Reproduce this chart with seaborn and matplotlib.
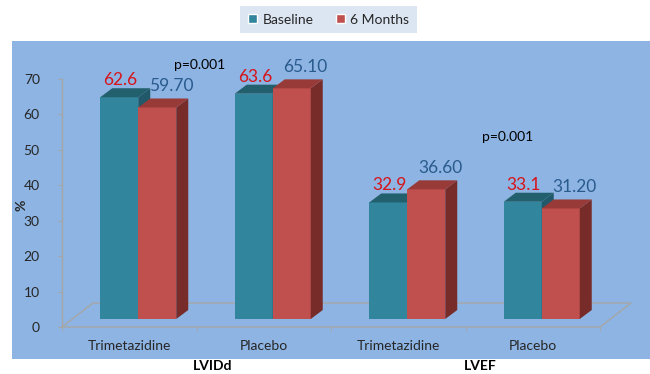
import matplotlib
matplotlib.use("Agg")
import pandas as pd
import matplotlib.pyplot as plt
import seaborn as sns
from matplotlib.patches import Polygon, Rectangle, Patch
from matplotlib.transforms import offset_copy

# values
groups = ["LVIDd", "LVIDd", "LVEF", "LVEF"]
drugs = ["Trimetazidine", "Placebo", "Trimetazidine", "Placebo"]
baseline = [62.6, 63.6, 32.9, 33.1]
six_months = [59.70, 65.10, 36.60, 31.20]
series = ["Baseline", "6 Months"]
p_texts = ["p=0.001", "p=0.001"]
yticks = [0, 10, 20, 30, 40, 50, 60, 70]

keys = [g + " " + d for g, d in zip(groups, drugs)]
df = pd.DataFrame({
    "key": keys * 2,
    "series": [series[0]] * len(keys) + [series[1]] * len(keys),
    "value": baseline + six_months,
})

teal, red = "#31859C", "#C0504D"
top_cols = ["#23606E", "#983A37"]
side_cols = ["#21596A", "#772C2A"]
label_cols = ["#D7141A", "#2A5B8E"]
label_fmt = ["{:.1f}", "{:.2f}"]

sns.set_style("white")
plt.rcParams["font.family"] = ["Lato", "DejaVu Sans"]

W, H = 650, 374
fig = plt.figure(figsize=(6.5, 3.74), dpi=100)
fig.patches.append(Rectangle((12 / W, (H - 359) / H), (W - 12) / W, (359 - 41) / H,
                             transform=fig.transFigure, facecolor="#8DB4E2",
                             edgecolor="none", zorder=-5))

ax = fig.add_axes([62 / W, (H - 327) / H, 538 / W, 248 / H])
ax.set_facecolor("none")

sns.barplot(data=df, x="key", y="value", hue="series", order=keys,
            hue_order=series, palette=[teal, red], width=0.565,
            saturation=1, linewidth=0, legend=False, ax=ax)

ax.set_xlim(-0.5, len(keys) - 0.5)
ax.set_ylim(0, 70)

# pixel -> data scale
sx = ax.bbox.width / len(keys)
sy = ax.bbox.height / 70

shift = offset_copy(ax.transData, fig=fig, x=9, y=8, units="dots")
ddx, ddy = 12 / sx, 9 / sy

# floor of the 3d box
fdx, fdy = 31 / sx, 24 / sy
floor = Polygon([(-0.5, 0), (len(keys) - 0.5, 0),
                 (len(keys) - 0.5 + fdx, fdy), (-0.5 + fdx, fdy)],
                closed=True, fill=False, edgecolor="#A6A6A6", lw=1,
                zorder=1, clip_on=False)
ax.add_patch(floor)

label_off = [(10, 20), (23, 24)]
for i, cont in enumerate(ax.containers):
    z = 3 + 2 * i
    for bar in cont:
        bar.set_transform(shift)
        bar.set_zorder(z)
        bar.set_clip_on(False)
        x0, w, h = bar.get_x(), bar.get_width(), bar.get_height()
        top = Polygon([(x0, h), (x0 + w, h), (x0 + w + ddx, h + ddy), (x0 + ddx, h + ddy)],
                      closed=True, transform=shift, facecolor=top_cols[i],
                      edgecolor="none", zorder=z + 0.5, clip_on=False)
        side = Polygon([(x0 + w, 0), (x0 + w + ddx, ddy), (x0 + w + ddx, h + ddy), (x0 + w, h)],
                       closed=True, transform=shift, facecolor=side_cols[i],
                       edgecolor="none", zorder=z + 0.5, clip_on=False)
        ax.add_patch(side)
        ax.add_patch(top)
        ax.annotate(label_fmt[i].format(h), xy=(x0 + w / 2, h),
                    xytext=label_off[i], textcoords="offset pixels",
                    ha="center", va="baseline", fontsize=12.5,
                    color=label_cols[i], annotation_clip=False, zorder=10)

# axes styling
for s in ["top", "right", "bottom"]:
    ax.spines[s].set_visible(False)
ax.spines["left"].set_color("#A6A6A6")
ax.spines["left"].set_linewidth(1)
ax.set_yticks(yticks)
ax.tick_params(axis="y", length=3, color="#A6A6A6", pad=13,
               labelsize=10, labelcolor="#262626", left=True)
ax.set_xticks(range(len(keys)))
ax.set_xticklabels(drugs)
ax.set_xticks([k - 0.5 for k in range(len(keys) + 1)], minor=True)
ax.tick_params(axis="x", which="major", length=0, pad=9,
               labelsize=10, labelcolor="#262626")
ax.tick_params(axis="x", which="minor", length=3, color="#A6A6A6", bottom=True)
ax.set_xlabel("")
ax.set_ylabel("")

fig.text(22 / W, 1 - 205 / H, "%", rotation=90, ha="center", va="center",
         fontsize=10, fontweight="bold", color="#262626")
fig.text(213 / W, 1 - 366 / H, "LVIDd", ha="center", va="center",
         fontsize=10, fontweight="bold", color="black")
fig.text(480 / W, 1 - 366 / H, "LVEF", ha="center", va="center",
         fontsize=10, fontweight="bold", color="black")

fig.text(200 / W, 1 - 65 / H, p_texts[0], ha="center", va="center",
         fontsize=10, color="black")
fig.text(508 / W, 1 - 137 / H, p_texts[1], ha="center", va="center",
         fontsize=10, color="black")

handles = [Patch(facecolor=teal, label=series[0]), Patch(facecolor=red, label=series[1])]
leg = fig.legend(handles=handles, loc="center", bbox_to_anchor=(328.5 / W, 1 - 19.5 / H),
                 ncol=2, frameon=True, fancybox=False, facecolor="#DCE6F2",
                 edgecolor="none", framealpha=1, fontsize=10,
                 handlelength=0.65, handleheight=0.65, handletextpad=0.4,
                 columnspacing=1.6, borderpad=0.55)

fig.savefig("out.png", dpi=100)
